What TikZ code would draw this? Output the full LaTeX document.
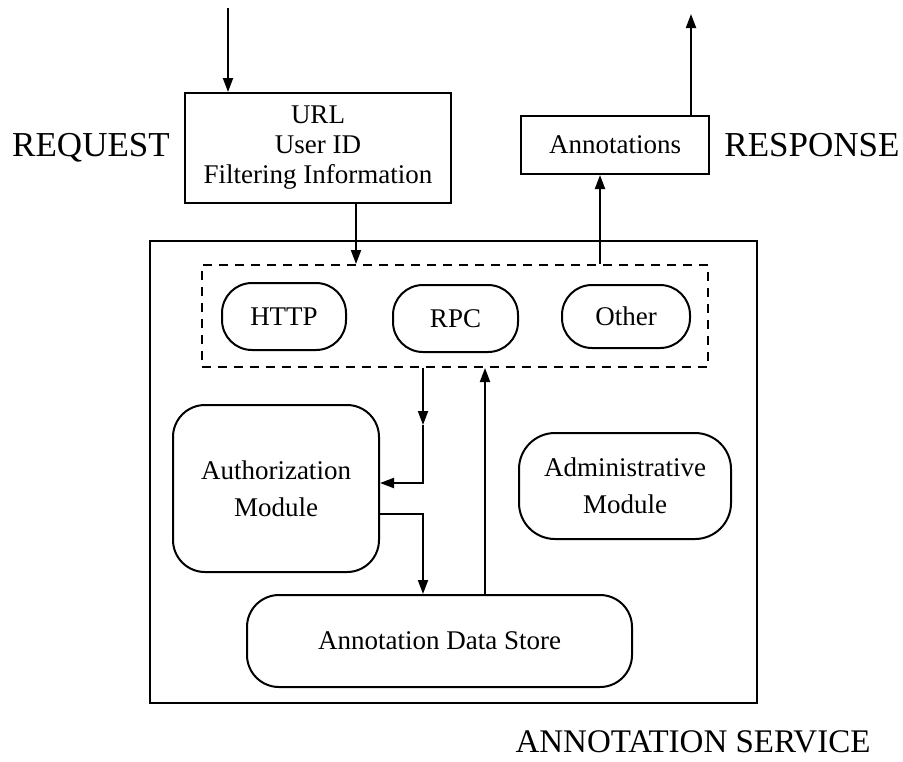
\documentclass[tikz,border=0pt]{standalone}
\usepackage{fontspec}
\setmainfont{Liberation Serif}
\usetikzlibrary{arrows.meta}

\tikzset{
  box/.style = {draw, line width=1pt, align=center, inner sep=0pt,
                font=\fontsize{13.5}{15}\selectfont},
  pill/.style = {box, rounded corners=15pt},
  module/.style = {box, rounded corners=16pt, font=\fontsize{13.5}{18.5}\selectfont},
  biglabel/.style = {font=\fontsize{17.5}{20}\selectfont, inner sep=0pt}
}

\begin{document}
\begin{tikzpicture}[x=0.5pt, y=-0.5pt, line width=1pt, >={Triangle[length=7pt,width=5pt]}]
\useasboundingbox (0,0) rectangle (903,761);

\node[box, minimum width=133pt, minimum height=55pt] (url) at (318,148) {URL\\User ID\\Filtering Information};
\node[box, minimum width=94pt, minimum height=29pt] (annot) at (615,145) {Annotations};
\node[biglabel] (req) at (91,148) {REQUEST};
\node[biglabel] (resp) at (812,145) {RESPONSE};

\node[box, line width=1.3pt, minimum width=303.5pt, minimum height=231pt] (service) at (453.5,472) {};
\node[box, dashed, dash pattern=on 4.5pt off 3.5pt, minimum width=253pt, minimum height=51pt] (proto) at (455,316) {};

\node[pill, minimum width=62pt, minimum height=33.5pt] (http) at (284,316.5) {HTTP};
\node[pill, minimum width=62.5pt, minimum height=33.5pt] (rpc) at (455.5,318.5) {RPC};
\node[pill, minimum width=64pt, minimum height=31.5pt] (other) at (626,316.5) {Other};

\node[module, minimum width=103pt, minimum height=83.5pt] (auth) at (276,488.5) {Authorization\\Module};
\node[module, rounded corners=18pt, minimum width=106pt, minimum height=53pt] (admin) at (625,486) {Administrative\\Module};
\node[module, minimum width=192.5pt, minimum height=46pt] (store) at (439.5,641) {Annotation Data Store};

\node[biglabel, font=\fontsize{16.5}{20}\selectfont] (title) at (693,742) {ANNOTATION SERVICE};

% request / response
\coordinate (reqin) at (228,8);
\coordinate (respout) at (691,14);
\draw[->] (reqin) -- (reqin |- url.north);
\draw[->] (url.south -| 356,0) -- (proto.north -| 356,0);
\draw[->] (proto.north -| 600,0) -- (annot.south -| 600,0);
\draw[->] (annot.north -| respout) -- (respout);

% inside the service
\coordinate (down) at (423,425);
\coordinate (toauth) at (423,483);
\coordinate (fromauth) at (423,514);
\draw[->] (proto.south -| down) -- (down);
\draw[->] (down) -- (toauth) -- (toauth -| auth.east);
\draw[->] (fromauth -| auth.east) -- (fromauth) -- (store.north -| fromauth);
\draw[->] (store.north -| 485,0) -- (proto.south -| 485,0);

\end{tikzpicture}
\end{document}
